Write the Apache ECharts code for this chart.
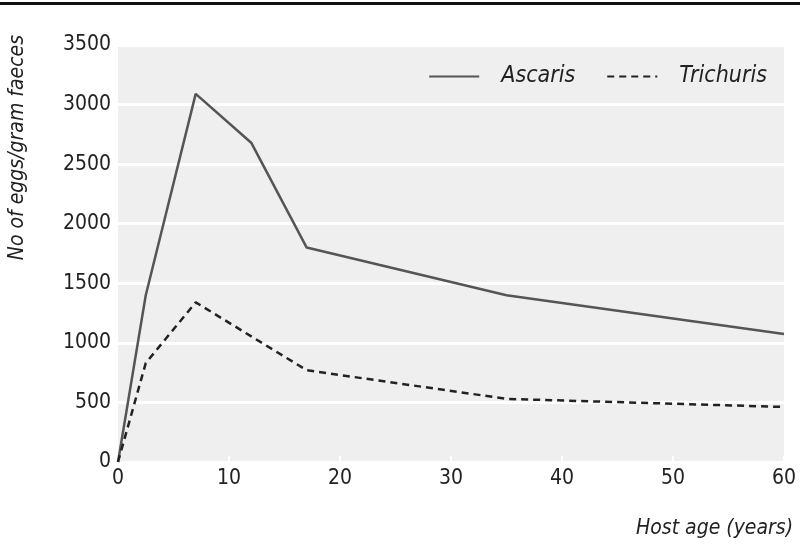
<!DOCTYPE html>
<html>
<head>
<meta charset="utf-8">
<script src="https://cdn.jsdelivr.net/npm/echarts@6/dist/echarts.min.js"></script>
<style>
  html, body { margin: 0; padding: 0; background: #fff; }
  #chart { width: 800px; height: 547px; }
</style>
</head>
<body>
<div id="chart"></div>
<script>
// 数据
var ascarisAges = [0, 2.5, 7, 12, 17, 35, 60];
var ascarisEggs = [0, 1400, 3090, 2680, 1800, 1400, 1075];
var trichurisAges = [0, 2.5, 7, 17, 35, 60];
var trichurisEggs = [0, 830, 1340, 770, 530, 462];
var xTicks = [0, 10, 20, 30, 40, 50, 60];
var yTicks = [0, 500, 1000, 1500, 2000, 2500, 3000, 3500];

var font = '"DejaVu Sans Condensed", "Liberation Sans", sans-serif';

function pairs(xs, ys) {
    return xs.map(function (x, i) { return [x, ys[i]]; });
}

var chart = echarts.init(document.getElementById('chart'));

chart.setOption({
    backgroundColor: '#fff',
    animation: false,
    graphic: [{
        type: 'rect',
        left: 0, top: 2,
        shape: { width: 800, height: 3 },
        style: { fill: '#111' }
    }, {
        // 纵轴标题
        type: 'text',
        x: 18, y: 35,
        rotation: Math.PI / 2,
        style: {
            text: 'No of eggs/gram faeces',
            font: 'italic 21px ' + font,
            fill: '#222',
            align: 'right',
            verticalAlign: 'middle'
        }
    }, {
        // 横轴标题
        type: 'text',
        x: 793, y: 529,
        style: {
            text: 'Host age (years)',
            font: 'italic 21px ' + font,
            fill: '#222',
            align: 'right',
            verticalAlign: 'middle'
        }
    }],
    grid: {
        left: 118, right: 16, top: 45, bottom: 85,
        outerBoundsMode: 'none',
        containLabel: false,
        show: true,
        backgroundColor: '#efefef',
        borderWidth: 0
    },
    legend: {
        right: 28, top: 60,
        itemWidth: 50, itemHeight: 14,
        itemGap: 31,
        itemStyle: { opacity: 0 },
        textStyle: { fontFamily: font, fontStyle: 'italic', fontSize: 23, color: '#222', padding: [0, 0, 0, 17] },
        data: ['Ascaris', 'Trichuris']
    },
    xAxis: {
        type: 'value',
        min: 0, max: 60, interval: 10,
        axisLine: { show: false },
        axisTick: { show: true, inside: true, length: 6, lineStyle: { color: '#fff', width: 2 } },
        splitLine: { show: false },
        axisLabel: { fontFamily: font, fontSize: 21, color: '#222', margin: 6,
            formatter: function (v) { return xTicks.indexOf(v) >= 0 ? String(v) : ''; } }
    },
    yAxis: {
        type: 'value',
        min: 0, max: 3500, interval: 500,
        axisLine: { show: false },
        axisTick: { show: false },
        splitLine: { show: true, lineStyle: { color: '#fff', width: 3 } },
        axisLabel: { fontFamily: font, fontSize: 21, color: '#222', margin: 7,
            formatter: function (v) { return yTicks.indexOf(v) >= 0 ? String(v) : ''; } }
    },
    series: [{
        name: 'Ascaris',
        type: 'line',
        data: pairs(ascarisAges, ascarisEggs),
        symbol: 'none',
        lineStyle: { color: '#555', width: 2.5 },
        itemStyle: { color: '#555' }
    }, {
        name: 'Trichuris',
        type: 'line',
        data: pairs(trichurisAges, trichurisEggs),
        symbol: 'none',
        lineStyle: { color: '#222', width: 2.5, type: [7, 5] },
        itemStyle: { color: '#222' }
    }]
});
</script>
</body>
</html>
